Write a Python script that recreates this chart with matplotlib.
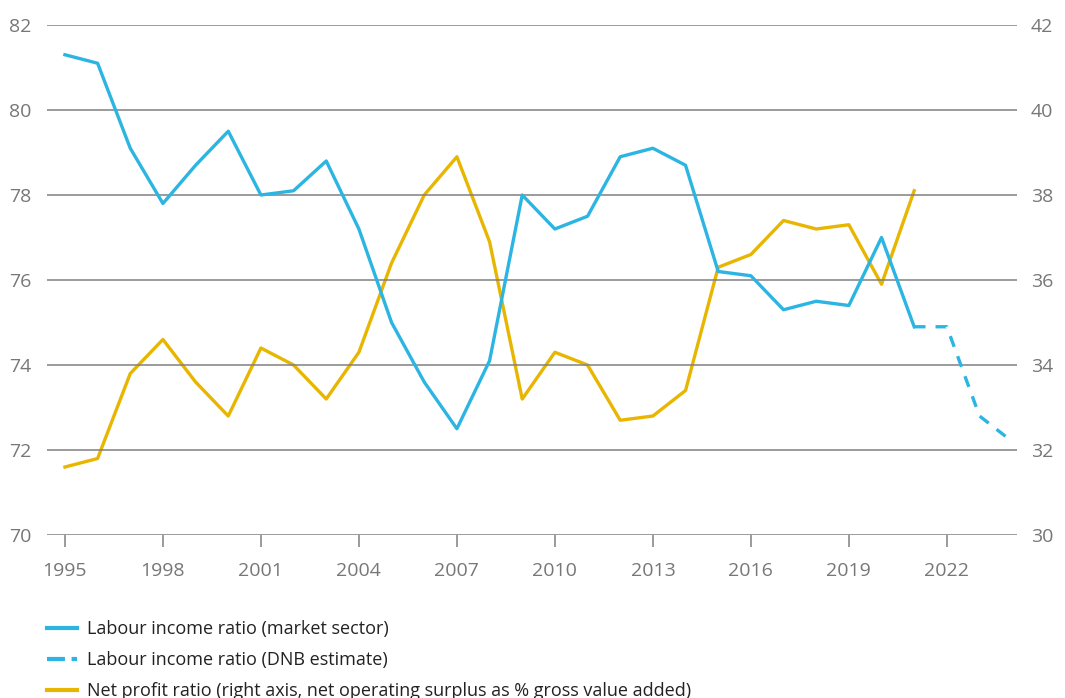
import numpy as np
import matplotlib.pyplot as plt
from matplotlib.lines import Line2D

plt.rcParams['font.family'] = ['Open Sans', 'DejaVu Sans']

years = np.arange(1995, 2022)
labour_income = [81.3, 81.1, 79.1, 77.8, 78.7, 79.5, 78.0, 78.1, 78.8, 77.2,
                 75.0, 73.6, 72.5, 74.1, 78.0, 77.2, 77.5, 78.9, 79.1, 78.7,
                 76.2, 76.1, 75.3, 75.5, 75.4, 77.0, 74.9]
est_years = [2021, 2022, 2023, 2024]
labour_estimate = [74.9, 74.9, 72.8, 72.2]
net_profit = [31.6, 31.8, 33.8, 34.6, 33.6, 32.8, 34.4, 34.0, 33.2, 34.3,
              36.4, 38.0, 38.9, 36.9, 33.2, 34.3, 34.0, 32.7, 32.8, 33.4,
              36.3, 36.6, 37.4, 37.2, 37.3, 35.9, 38.1]
xticks = np.arange(1995, 2023, 3)

blue = '#2cb5e2'
yellow = '#e8b600'
grey = '#808080'
txt = '#777777'

fig = plt.figure(figsize=(10.65, 6.98), dpi=100)
ax1 = fig.add_axes([0.0441, 0.2335, 0.9109, 0.7307])
ax2 = ax1.twinx()

ax1.set_xlim(1994.45, 2024.15)
ax1.set_ylim(70, 82)
ax2.set_ylim(30, 42)
ax1.set_yticks(np.arange(70, 83, 2))
ax2.set_yticks(np.arange(30, 43, 2))
ax1.set_xticks(xticks)

for y in np.arange(70, 83, 2):
    ax1.axhline(y, color=grey, lw=1.1, zorder=0)

ax1.plot(years, labour_income, color=blue, lw=2.4, zorder=3)
ax1.plot(est_years, labour_estimate, color=blue, lw=2.4, ls=(0, (3.4, 3.0)), zorder=3)
ax2.plot(years, net_profit, color=yellow, lw=2.4, zorder=2)
ax1.set_zorder(ax2.get_zorder() + 1)
ax1.patch.set_visible(False)

for ax in (ax1, ax2):
    for s in ax.spines.values():
        s.set_visible(False)
    ax.tick_params(axis='y', length=0, labelsize=14, labelcolor=txt)
ax1.tick_params(axis='y', pad=11)
ax2.tick_params(axis='y', pad=10)
ax1.tick_params(axis='x', direction='out', length=8.5, width=1.1, color=grey,
                labelsize=14, labelcolor=txt, pad=11)

handles = [
    Line2D([], [], color=blue, lw=3),
    Line2D([], [], color=blue, lw=3, ls=(0, (4.3, 1.6))),
    Line2D([], [], color=yellow, lw=3),
]
labels = [
    'Labour income ratio (market sector)',
    'Labour income ratio (DNB estimate)',
    'Net profit ratio (right axis, net operating surplus as % gross value added)',
]
fig.legend(handles, labels, loc='upper left', bbox_to_anchor=(0.0375, 0.122),
           frameon=False, fontsize=13, handlelength=1.66, handletextpad=0.55,
           labelspacing=0.72, borderaxespad=0, labelcolor='#222222')

fig.savefig('out.png', dpi=100)
